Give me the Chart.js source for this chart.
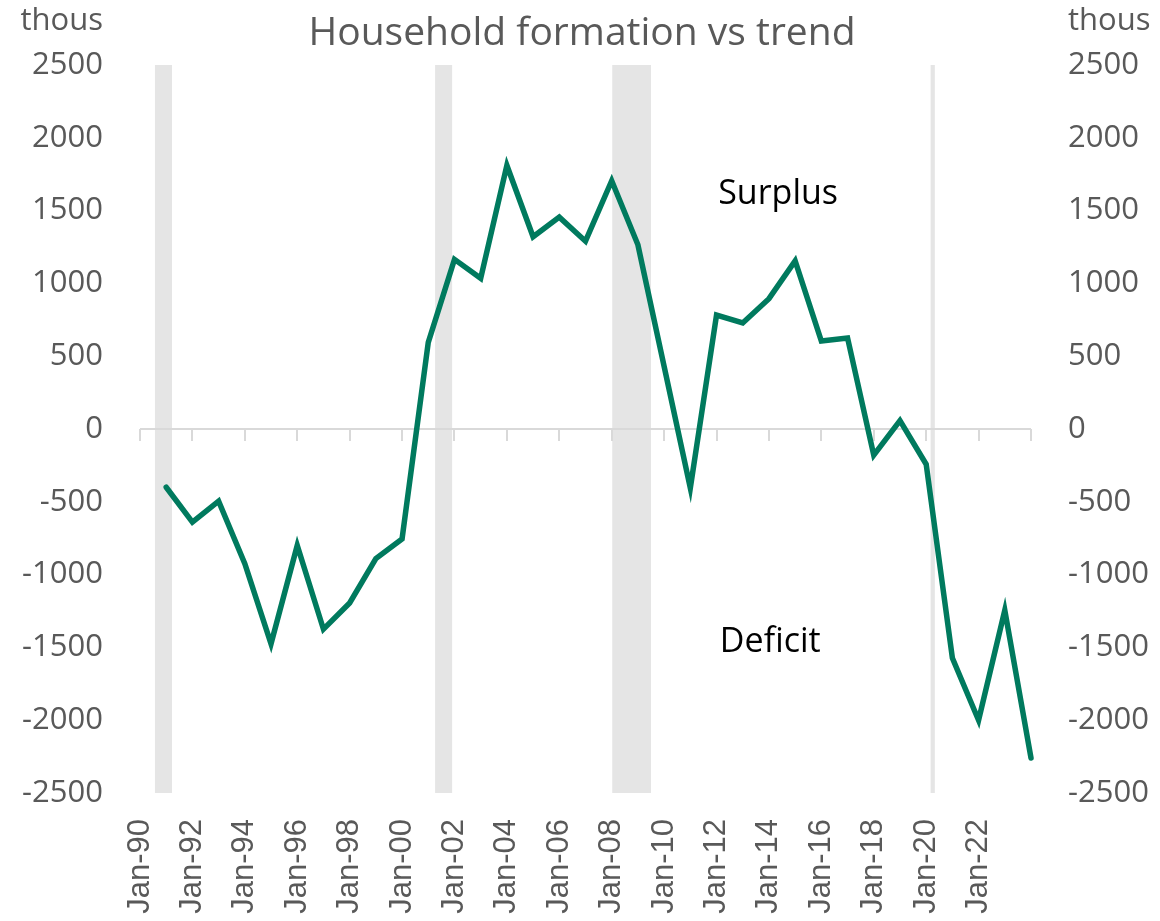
<!DOCTYPE html>
<html>
<head>
<meta charset="utf-8">
<script src="https://cdn.jsdelivr.net/npm/chart.js@4"></script>
<style>
   body { margin: 0; background: #fff; }
   #wrap { width: 1160px; height: 921px; }
</style>
</head>
<body>
<div id="wrap"><canvas id="hhChart" width="1160" height="921"></canvas></div>
<script>
// #region Data
const years = [1991, 1992, 1993, 1994, 1995, 1996, 1997, 1998, 1999, 2000,
   2001, 2002, 2003, 2004, 2005, 2006, 2007, 2008, 2009, 2010,
   2011, 2012, 2013, 2014, 2015, 2016, 2017, 2018, 2019, 2020,
   2021, 2022, 2023, 2024];
const gapVals = [-400, -640, -495, -925, -1475, -800, -1375, -1195, -890, -755,
   595, 1165, 1035, 1810, 1320, 1455, 1290, 1705, 1265, 430,
   -405, 783, 728, 895, 1155, 604, 625, -179, 58, -242,
   -1573, -2000, -1245, -2260];

// recession periods, in fractional years
const recessionStart = [1990.57, 2001.26, 2008.02, 2020.17];
const recessionEnd = [1991.22, 2001.91, 2009.5, 2020.33];

const chartTitle = 'Household formation vs trend';
const unitLabel = 'thous';
const zoneLabels = ['Surplus', 'Deficit'];
const zoneLabelX = [2014.35, 2014.05];
const zoneLabelY = [1614, -1463];
// #endregion

const GREY_TEXT = '#595959';
const SEGOE = '"Open Sans", "Noto Sans", sans-serif';

// ***********************
// Name:    shadingPlugin
// Purpose: draws recession bands, the zero line and its tick marks, plus titles
// ************************
const shadingPlugin = {
   id: 'shading',
   beforeDatasetsDraw(chart) {
      const {ctx, chartArea, scales} = chart;
      const x = scales.x, y = scales.y;
      ctx.save();
      ctx.fillStyle = '#e5e5e5';
      for (let i = 0; i < recessionStart.length; i++) {
         let x0 = x.getPixelForValue(recessionStart[i]);
         let x1 = x.getPixelForValue(recessionEnd[i]);
         ctx.fillRect(x0, chartArea.top, x1 - x0, chartArea.bottom - chartArea.top);
      }
      let y0 = y.getPixelForValue(0);
      ctx.strokeStyle = '#d9d9d9';
      ctx.lineWidth = 2;
      ctx.beginPath();
      ctx.moveTo(chartArea.left, y0);
      ctx.lineTo(chartArea.right, y0);
      x.ticks.forEach(t => {
         let px = Math.round(x.getPixelForValue(t.value));
         ctx.moveTo(px, y0);
         ctx.lineTo(px, y0 + 12);
      });
      ctx.stroke();
      ctx.restore();
   },
   afterDraw(chart) {
      const {ctx, scales} = chart;
      ctx.save();
      ctx.fillStyle = GREY_TEXT;
      ctx.textBaseline = 'middle';
      ctx.font = '39px ' + SEGOE;
      ctx.textAlign = 'center';
      ctx.fillText(chartTitle, 582, 34);

      ctx.font = '31px ' + SEGOE;
      ctx.textAlign = 'right';
      ctx.fillText(unitLabel, 103, 21);
      ctx.textAlign = 'left';
      ctx.fillText(unitLabel, 1068, 21);

      ctx.fillStyle = '#000';
      ctx.font = '34px ' + SEGOE;
      ctx.textAlign = 'center';
      for (let i = 0; i < zoneLabels.length; i++) {
         ctx.fillText(zoneLabels[i], scales.x.getPixelForValue(zoneLabelX[i]), scales.y.getPixelForValue(zoneLabelY[i]));
      }
      ctx.restore();
   }
};

const yTicks = {
   stepSize: 500,
   color: GREY_TEXT,
   padding: 37,
   font: { family: SEGOE, size: 31 },
   callback: (v) => String(v)
};

const config = {
   type: 'line',
   data: {
      datasets: [{
         data: years.map((yr, i) => ({ x: yr, y: gapVals[i] })),
         borderColor: '#007a5e',
         borderWidth: 5.5,
         borderCapStyle: 'round',
         pointRadius: 0,
         tension: 0,
         fill: false,
         clip: false
      }]
   },
   options: {
      responsive: false,
      animation: false,
      layout: { padding: { top: 65, left: 0, right: 0, bottom: 0 } },
      plugins: {
         legend: { display: false },
         title: { display: false },
         tooltip: { enabled: false }
      },
      scales: {
         x: {
            type: 'linear',
            min: 1990,
            max: 2024,
            grid: { display: false, drawTicks: false },
            border: { display: false },
            afterFit: (scale) => { scale.height = 128; },
            ticks: {
               stepSize: 2,
               minRotation: 90,
               maxRotation: 90,
               padding: 26,
               color: GREY_TEXT,
               font: { family: '"Liberation Sans", Arial, sans-serif', size: 31 },
               callback: (v) => v < 2024 ? 'Jan-' + String(v % 100).padStart(2, '0') : ''
            }
         },
         y: {
            position: 'left',
            min: -2500,
            max: 2500,
            grid: { display: false, drawTicks: false },
            border: { display: false },
            afterFit: (scale) => { scale.width = 140; },
            ticks: yTicks
         },
         y2: {
            position: 'right',
            min: -2500,
            max: 2500,
            grid: { display: false, drawTicks: false },
            border: { display: false },
            afterFit: (scale) => { scale.width = 129; },
            ticks: yTicks
         }
      }
   },
   plugins: [shadingPlugin]
};

const hhChart = new Chart(document.getElementById('hhChart'), config);
</script>
</body>
</html>
